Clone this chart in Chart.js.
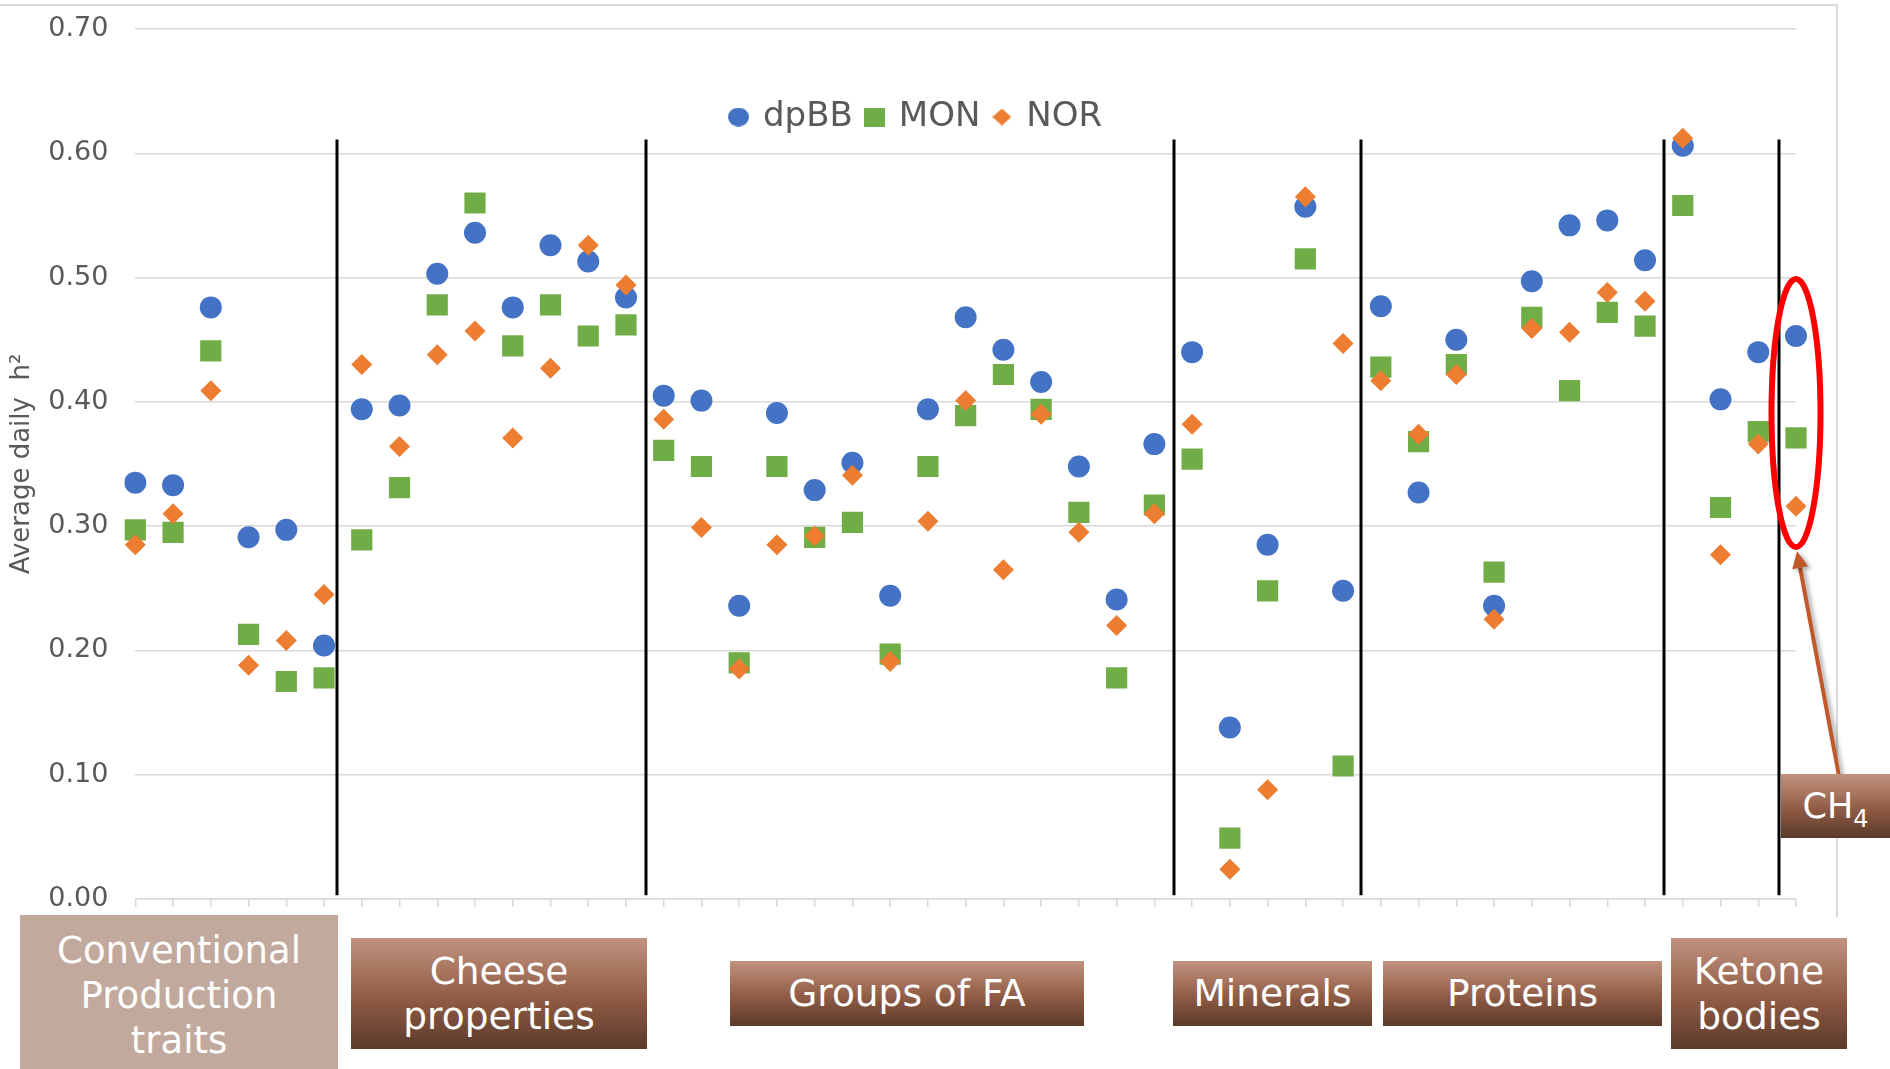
<!DOCTYPE html>
<html>
<head>
<meta charset="utf-8">
<title>Average daily h2 per trait</title>
<script src="https://cdn.jsdelivr.net/npm/chart.js@4.4.1/dist/chart.umd.min.js"></script>
<style>
  html, body { margin: 0; padding: 0; background: #fff; }
  #wrap { position: relative; width: 1890px; height: 1069px; overflow: hidden; font-family: 'DejaVu Sans', Verdana, sans-serif; }
  #frame { position: absolute; left: -2px; top: 4px; width: 1840px; height: 913px; box-sizing: border-box;
           border-top: 2px solid #d9d9d9; border-right: 2px solid #d9d9d9; }
  #chart { position: absolute; left: 0; top: 0; }
  .grp { position: absolute; display: flex; align-items: center; justify-content: center; text-align: center;
         color: #fff; font-size: 37.5px; line-height: 45px;
         background: linear-gradient(to bottom, #c2937f 0%, #8f5b45 55%, #5b3a2a 100%); }
  .grp.conv { background: #c2a99d; font-size: 37px; line-height: 45px; padding-top: 4px; }
  .grp.ch4 { font-size: 35px; }
  .grp.ch4 sub { font-size: 24px; vertical-align: -9px; line-height: 0; }
</style>
</head>
<body>
<div id="wrap">
  <div id="frame"></div>
  <canvas id="chart" width="1890" height="1069"></canvas>
  <div class="grp conv" style="left:20px;top:915px;width:318px;height:152px;"><div>Conventional<br>Production<br>traits</div></div>
  <div class="grp" style="left:351px;top:938px;width:296px;height:111px;"><div>Cheese<br>properties</div></div>
  <div class="grp" style="left:730px;top:961px;width:354px;height:65px;"><div>Groups of FA</div></div>
  <div class="grp" style="left:1173px;top:961px;width:199px;height:65px;"><div>Minerals</div></div>
  <div class="grp" style="left:1383px;top:961px;width:279px;height:65px;"><div>Proteins</div></div>
  <div class="grp" style="left:1671px;top:938px;width:176px;height:111px;"><div>Ketone<br>bodies</div></div>
  <div class="grp ch4" style="left:1781px;top:774px;width:109px;height:64px;"><div>CH<sub>4</sub></div></div>
</div>
<script>
// trait groups, in the order they sit on the x axis
const groups = ['Conventional Production traits', 'Cheese properties', 'Groups of FA', 'Minerals', 'Proteins', 'Ketone bodies', 'CH4'];
const groupSizes = [6, 8, 14, 5, 8, 3, 1];
const traitLabels = groups.flatMap((g, i) => Array.from({ length: groupSizes[i] }, (_, k) => g + ' ' + (k + 1)));

// average daily h2 per trait
const dpBB = [0.335, 0.333, 0.476, 0.291, 0.297, 0.204,
    0.394, 0.397, 0.503, 0.536, 0.476, 0.526, 0.513, 0.484,
    0.405, 0.401, 0.236, 0.391, 0.329, 0.351, 0.244, 0.394, 0.468, 0.442, 0.416, 0.348, 0.241, 0.366,
    0.440, 0.138, 0.285, 0.557, 0.248,
    0.477, 0.327, 0.450, 0.236, 0.497, 0.542, 0.546, 0.514,
    0.606, 0.402, 0.440,
    0.453];
const MON = [0.297, 0.295, 0.441, 0.213, 0.175, 0.178,
    0.289, 0.331, 0.478, 0.560, 0.445, 0.478, 0.453, 0.462,
    0.361, 0.348, 0.190, 0.348, 0.291, 0.303, 0.197, 0.348, 0.389, 0.422, 0.394, 0.311, 0.178, 0.317,
    0.354, 0.049, 0.248, 0.515, 0.107,
    0.428, 0.368, 0.430, 0.263, 0.468, 0.409, 0.472, 0.461,
    0.558, 0.315, 0.376,
    0.371];
const NOR = [0.285, 0.310, 0.409, 0.188, 0.208, 0.245,
    0.430, 0.364, 0.438, 0.457, 0.371, 0.427, 0.526, 0.494,
    0.386, 0.299, 0.185, 0.285, 0.292, 0.341, 0.191, 0.304, 0.401, 0.265, 0.390, 0.295, 0.220, 0.310,
    0.382, 0.024, 0.088, 0.565, 0.447,
    0.417, 0.374, 0.422, 0.225, 0.459, 0.456, 0.488, 0.481,
    0.612, 0.277, 0.366,
    0.316];

// separator lines between groups (trait number, fractional)
const separators = [6.355, 14.53, 28.53, 33.48, 41.5, 44.56];

const BLUE = '#4472C4', GREEN = '#70AD47', ORANGE = '#ED7D31';

function legendMark(shape, color, w, h) {
    const c = document.createElement('canvas');
    c.width = w; c.height = h;
    const g = c.getContext('2d');
    g.fillStyle = color;
    g.beginPath();
    if (shape === 'circle') g.ellipse(w / 2, h / 2, w / 2, h / 2, 0, 0, Math.PI * 2);
    else if (shape === 'rect') g.rect(0, 0, w, h);
    else { g.moveTo(w / 2, 0); g.lineTo(w, h / 2); g.lineTo(w / 2, h); g.lineTo(0, h / 2); g.closePath(); }
    g.fill();
    return c;
}
const legendMarks = [legendMark('circle', BLUE, 21, 19), legendMark('rect', GREEN, 21, 19), legendMark('diamond', ORANGE, 19, 17)];

const decorations = {
    id: 'decorations',
    afterLayout(chart) {
        // legend floats inside the plot, left of centre
        const lg = chart.legend;
        lg.left = 717; lg.top = 86;
        lg.right = 1890; lg.bottom = 165;
    },
    beforeDatasetsDraw(chart) {
        const { ctx, scales: { x, y } } = chart;
        ctx.save();
        ctx.strokeStyle = '#000';
        ctx.lineWidth = 3;
        separators.forEach(p => {
            const px = Math.round(x.getPixelForValue(p - 1));
            ctx.beginPath();
            ctx.moveTo(px, y.getPixelForValue(0.611));
            ctx.lineTo(px, y.getPixelForValue(0.003));
            ctx.stroke();
        });
        ctx.restore();
    },
    afterDraw(chart) {
        const { ctx, scales: { x, y } } = chart;
        const cx = x.getPixelForValue(44);
        const cy = y.getPixelForValue(0.391);
        const rx = 24.5, ry = 134;
        // arrow from the CH4 label up to the ellipse
        const tipX = cx + 1, tipY = cy + ry + 4;
        const tailX = 1839, tailY = 776;
        const ang = Math.atan2(tipY - tailY, tipX - tailX);
        const headLen = 17, headW = 8;
        const bx = tipX - headLen * Math.cos(ang), by = tipY - headLen * Math.sin(ang);
        ctx.save();
        ctx.shadowColor = 'rgba(0,0,0,0.35)';
        ctx.shadowBlur = 4;
        ctx.shadowOffsetX = 3;
        ctx.shadowOffsetY = 2;
        ctx.strokeStyle = '#c2582a';
        ctx.fillStyle = '#c2582a';
        ctx.lineWidth = 4;
        ctx.beginPath();
        ctx.moveTo(tailX, tailY);
        ctx.lineTo(bx, by);
        ctx.stroke();
        ctx.beginPath();
        ctx.moveTo(tipX, tipY);
        ctx.lineTo(bx + headW * Math.sin(ang), by - headW * Math.cos(ang));
        ctx.lineTo(bx - headW * Math.sin(ang), by + headW * Math.cos(ang));
        ctx.closePath();
        ctx.fill();
        ctx.restore();

        ctx.save();
        ctx.strokeStyle = '#ff0000';
        ctx.lineWidth = 6;
        ctx.beginPath();
        ctx.ellipse(cx, cy, rx, ry, 0, 0, Math.PI * 2);
        ctx.stroke();
        ctx.restore();
    }
};

Chart.defaults.font.family = "'DejaVu Sans', Verdana, sans-serif";
Chart.defaults.color = '#595959';

new Chart(document.getElementById('chart'), {
    type: 'line',
    data: {
        labels: traitLabels,
        datasets: [
            { label: 'dpBB', data: dpBB, order: 2, showLine: false, pointStyle: 'circle', pointRadius: 11,
              backgroundColor: BLUE, borderColor: BLUE, borderWidth: 0, pointHoverRadius: 11 },
            { label: 'MON', data: MON, order: 1, showLine: false, pointStyle: 'rect', pointRadius: 15,
              backgroundColor: GREEN, borderColor: GREEN, borderWidth: 0, pointHoverRadius: 15 },
            { label: 'NOR', data: NOR, order: 0, showLine: false, pointStyle: 'rectRot', pointRadius: 10.5,
              backgroundColor: ORANGE, borderColor: ORANGE, borderWidth: 0, pointHoverRadius: 10.5 }
        ]
    },
    options: {
        responsive: false,
        devicePixelRatio: 1,
        animation: false,
        layout: { autoPadding: false, padding: { left: 0, right: 94, top: 28, bottom: 162 } },
        scales: {
            x: {
                type: 'category',
                offset: false,
                ticks: { display: false },
                grid: { drawOnChartArea: false, drawTicks: true, tickLength: 8, color: '#d9d9d9', lineWidth: 1.5 },
                border: { display: true, color: '#d9d9d9', width: 1.5 }
            },
            y: {
                min: 0,
                max: 0.7,
                ticks: { stepSize: 0.1, padding: 5, color: '#595959', font: { size: 27 }, callback: v => v.toFixed(2) },
                grid: { color: '#d9d9d9', lineWidth: 1.5, drawTicks: true, tickLength: 22, tickColor: 'rgba(0,0,0,0)' },
                border: { display: false },
                title: { display: true, text: 'Average daily  h²', color: '#595959', font: { size: 26 }, padding: { top: 7, bottom: 5 } }
            }
        },
        plugins: {
            legend: {
                position: 'top',
                align: 'start',
                maxHeight: 1,
                labels: {
                    usePointStyle: true,
                    boxWidth: 15,
                    boxHeight: 15,
                    padding: 14,
                    color: '#595959',
                    font: { size: 34 },
                    sort: (a, b) => a.datasetIndex - b.datasetIndex,
                    generateLabels(chart) {
                        const items = Chart.defaults.plugins.legend.labels.generateLabels(chart);
                        items.forEach(it => { it.pointStyle = legendMarks[it.datasetIndex]; });
                        return items;
                    }
                }
            },
            tooltip: { enabled: false }
        }
    },
    plugins: [decorations]
});
</script>
</body>
</html>
